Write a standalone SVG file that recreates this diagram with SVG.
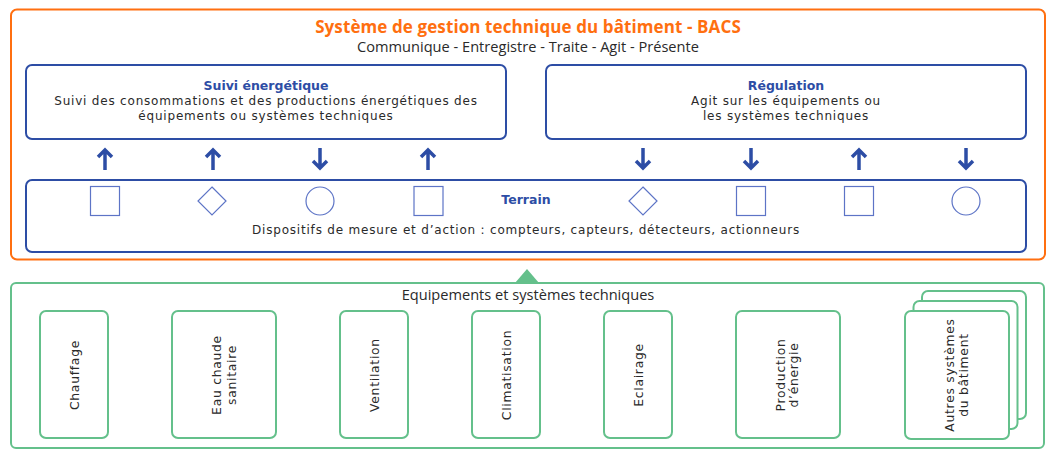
<svg xmlns="http://www.w3.org/2000/svg" width="1056" height="460" viewBox="0 0 1056 460">
<defs>
<style>
.bg{fill:#ffffff}
.orange{fill:#ffffff;stroke:#FF6F10;stroke-width:2}
.blue{fill:#ffffff;stroke:#2D4DA5;stroke-width:2}
.green{fill:#ffffff;stroke:#64C08B;stroke-width:2}
.sym{fill:#ffffff;stroke:#5D74C6;stroke-width:1.2}
.arrow{fill:none;stroke:#2D4DA5;stroke-width:3.5;stroke-linejoin:miter;stroke-linecap:butt}
.t{font-family:"Open Sans","Noto Sans",sans-serif;fill:#2a2a2a;text-anchor:middle}
.m{font-family:"DejaVu Sans","Noto Sans",sans-serif}
.title{font-size:17px;font-weight:bold;fill:#FF6F10;letter-spacing:0.1px}
.sub{font-size:14.6px}
.h{font-size:12.5px;font-weight:bold;fill:#2D4DA5}
.b{font-size:12px;letter-spacing:0.8px}
.v{font-size:12.3px;letter-spacing:0.75px}
</style>
</defs>
<rect class="bg" x="0" y="0" width="1056" height="460"/>

<g id="bacs">
<rect class="orange" x="11" y="9.5" width="1034" height="250" rx="6"/>
<text class="t title" x="528" y="33">Système de gestion technique du bâtiment - BACS</text>
<text class="t sub" x="528" y="51.5">Communique - Entregistre - Traite - Agit - Présente</text>
</g>

<g id="suivi">
<rect class="blue" x="26" y="65" width="480" height="74" rx="6"/>
<text class="t m h" x="266" y="90">Suivi énergétique</text>
<text class="t m b" x="266" y="105">Suivi des consommations et des productions énergétiques des</text>
<text class="t m b" x="266" y="120">équipements ou systèmes techniques</text>
</g>

<g id="regulation">
<rect class="blue" x="546" y="65" width="480" height="74" rx="6"/>
<text class="t m h" x="786" y="90">Régulation</text>
<text class="t m b" x="786" y="105">Agit sur les équipements ou</text>
<text class="t m b" x="786" y="120">les systèmes techniques</text>
</g>

<g id="terrain">
<rect class="blue" x="26" y="180" width="1000" height="72" rx="6"/>
<text class="t m h" x="526" y="204">Terrain</text>
<text class="t m b" x="526" y="234">Dispositifs de mesure et d’action : compteurs, capteurs, détecteurs, actionneurs</text>
<rect class="sym" x="90.5" y="186.5" width="29" height="29"/>
<path class="sym" d="M212,187 L226,201 L212,215 L198,201 Z"/>
<circle class="sym" cx="320" cy="201" r="14"/>
<rect class="sym" x="414" y="186.5" width="29" height="29"/>
<path class="sym" d="M643,187 L657,201 L643,215 L629,201 Z"/>
<rect class="sym" x="736.5" y="186.5" width="29" height="29"/>
<rect class="sym" x="844.5" y="186.5" width="29" height="29"/>
<circle class="sym" cx="966" cy="201" r="14"/>
</g>

<g id="connectors">
<path class="arrow" d="M105,170 V150 M98,157 L105,150 L112,157"/>
<path class="arrow" d="M213,170 V150 M206,157 L213,150 L220,157"/>
<path class="arrow" d="M320,148 V168 M313,161 L320,168 L327,161"/>
<path class="arrow" d="M428,170 V150 M421,157 L428,150 L435,157"/>
<path class="arrow" d="M643,148 V168 M636,161 L643,168 L650,161"/>
<path class="arrow" d="M751,148 V168 M744,161 L751,168 L758,161"/>
<path class="arrow" d="M859,170 V150 M852,157 L859,150 L866,157"/>
<path class="arrow" d="M966,148 V168 M959,161 L966,168 L973,161"/>
<path d="M515,283 L527,269 L539,283 Z" fill="#64C08B"/>
</g>

<g id="equipements">
<rect class="green" x="11" y="283" width="1033" height="165" rx="5"/>
<text class="t sub" x="528" y="300">Equipements et systèmes techniques</text>
</g>

<g id="chauffage">
<rect class="green" x="40" y="311" width="68" height="127" rx="6"/>
<text class="t m v" transform="translate(78.5,375) rotate(-90)">Chauffage</text>
</g>
<g id="eau">
<rect class="green" x="172" y="311" width="104" height="127" rx="6"/>
<text class="t m v" transform="translate(221,375) rotate(-90)">Eau chaude</text>
<text class="t m v" transform="translate(235.5,375) rotate(-90)">sanitaire</text>
</g>
<g id="ventilation">
<rect class="green" x="340" y="311" width="68" height="127" rx="6"/>
<text class="t m v" transform="translate(378.5,375) rotate(-90)">Ventilation</text>
</g>
<g id="climatisation">
<rect class="green" x="472" y="311" width="68" height="127" rx="6"/>
<text class="t m v" transform="translate(510.5,375) rotate(-90)">Climatisation</text>
</g>
<g id="eclairage">
<rect class="green" x="604" y="311" width="68" height="127" rx="6"/>
<text class="t m v" transform="translate(642.5,375) rotate(-90)">Eclairage</text>
</g>
<g id="production">
<rect class="green" x="736" y="311" width="104" height="127" rx="6"/>
<text class="t m v" transform="translate(784.5,375) rotate(-90)">Production</text>
<text class="t m v" transform="translate(798,375) rotate(-90)">d’énergie</text>
</g>
<g id="autres">
<rect class="green" x="922" y="291" width="104" height="128" rx="6"/>
<rect class="green" x="913.5" y="301" width="104" height="128" rx="6"/>
<rect class="green" x="905" y="311" width="104" height="128" rx="6"/>
<text class="t m v" transform="translate(954,375) rotate(-90)">Autres systèmes</text>
<text class="t m v" transform="translate(968,375) rotate(-90)">du bâtiment</text>
</g>
</svg>
